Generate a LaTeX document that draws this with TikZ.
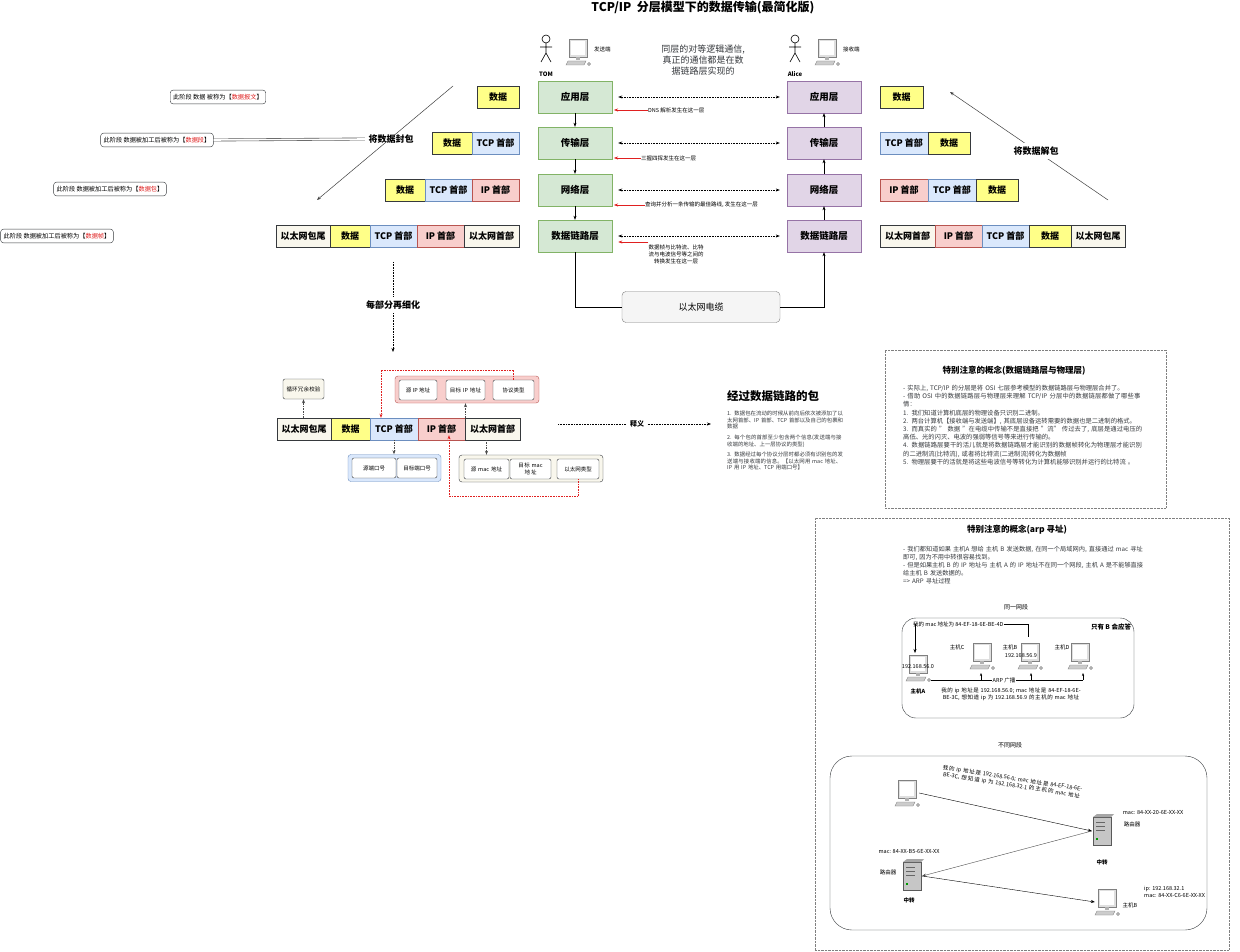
\documentclass[tikz,border=0pt]{standalone}
\usepackage{fontspec}
\setmainfont{Noto Sans CJK SC}
\XeTeXlinebreaklocale "zh"
\XeTeXlinebreakskip=0pt plus 1pt
\usetikzlibrary{arrows.meta,positioning}
\definecolor{gF}{HTML}{D5E8D4}\definecolor{gD}{HTML}{82B366}
\definecolor{pF}{HTML}{E1D5E7}\definecolor{pD}{HTML}{9673A6}
\definecolor{yF}{HTML}{FFFF88}\definecolor{bF}{HTML}{DAE8FC}\definecolor{bD}{HTML}{6C8EBF}
\definecolor{rF}{HTML}{F8CECC}\definecolor{rD}{HTML}{B85450}\definecolor{eF}{HTML}{F9F7ED}
\definecolor{dk}{HTML}{36393D}\definecolor{red1}{HTML}{E02020}
\tikzset{
 f/.style={font=\fontsize{#1}{#1}\selectfont},
 lay/.style={draw=gD,fill=gF,minimum width=74pt,minimum height=32pt,font=\bfseries\fontsize{9.5}{11}\selectfont},
 layr/.style={lay,draw=pD,fill=pF},
 cell/.style={draw=dk,minimum height=22pt,inner sep=0pt,font=\bfseries\fontsize{9}{11}\selectfont},
 ye/.style={cell,fill=yF,minimum width=#1},
 bl/.style={cell,draw=bD,fill=bF,minimum width=#1},
 pk/.style={cell,draw=rD,fill=rF,minimum width=#1},
 be/.style={cell,fill=eF,minimum width=#1},
 lbl/.style={draw=dk,rounded corners=3pt,fill=white,inner xsep=3pt,inner ysep=4pt,font=\fontsize{6.2}{7}\selectfont},
 dbl/.style={double=white,draw=gray!70!black,double distance=1.6pt,line width=0.6pt},
 darr/.style={densely dotted,line width=0.6pt,-{Stealth[length=4pt]}},
 rarr/.style={red1,line width=0.5pt,-{Stealth[length=4pt]}},
 sm/.style={font=\fontsize{5.5}{7}\selectfont,inner sep=0pt},
 ib/.style={draw=dk,rounded corners=2pt,fill=white,inner sep=1pt,minimum height=20pt,align=center,font=\fontsize{5.5}{6.5}\selectfont},
 pc/.pic={\draw[gray,fill=gray!25] (-9,-13) rectangle (9,5);\fill[white](-7,-11) rectangle (7,3);
   \fill[gray!60](-2,5) rectangle (2,8);\draw[gray,fill=gray!40](-10,9)--(8,9)--(6,13)--(-12,13)--cycle;
   \draw[gray,fill=gray!30](11,12) circle (1.5);},
 rt/.pic={\draw[gray!70!black,fill=gray!45](-9,-14) rectangle (9,14);\fill[gray!70](-9,-14)--(-5,-17)--(12,-17)--(9,-14)--cycle;
   \foreach \yy in {-9,-5,-1}{\draw[gray!80!black](-6,\yy)--(3,\yy);}\fill[green!60!black](-6,7) rectangle (-4,9);},
 actor/.pic={\draw[line width=0.6pt](0,-11) circle (4);\draw[line width=0.6pt](0,-7)--(0,3)(-6,-3)--(6,-3)(0,3)--(-5,12)(0,3)--(5,12);},
}
\begin{document}
\begin{tikzpicture}[x=1pt,y=-1pt]
\useasboundingbox[fill=white] (0,0) rectangle (1240,952);
% title
\node[font=\bfseries\fontsize{12}{14}\selectfont] (title) at (703,8) {TCP/IP\ \ 分层模型下的数据传输(最简化版)};
\pic at (546,50) {actor}; \node[font=\bfseries\fontsize{6}{7}\selectfont] (tom) at (546,74) {TOM};
\pic at (578,52) {pc}; \node[sm,anchor=west] (snd) at (594,49) {发送端};
\pic at (795,50) {actor}; \node[font=\bfseries\fontsize{6}{7}\selectfont] (alice) at (795,74) {Alice};
\pic at (827,52) {pc}; \node[sm,anchor=west] (rcv) at (843,49) {接收端};
\node[align=center,text=dk,font=\fontsize{9}{11}\selectfont] (note) at (703,60) {同层的对等逻辑通信,\\真正的通信都是在数\\据链路层实现的};
% layers
\foreach \n/\t/\y in {a/应用层/97,b/传输层/143,c/网络层/190,d/数据链路层/236}{
 \node[lay] (L\n) at (575,\y) {\t};
 \node[layr] (R\n) at (824,\y) {\t};
 \draw[densely dotted,line width=0.6pt,{Stealth[length=4pt]}-{Stealth[length=4pt]}] ([xshift=6pt]L\n.east) -- ([xshift=-7pt]R\n.west);
}
\draw[-{Stealth[length=4pt]}] (La) -- (Lb); \draw[-{Stealth[length=4pt]}] (Lb) -- (Lc); \draw[-{Stealth[length=4pt]}] (Lc) -- (Ld);
\draw[-{Stealth[length=4pt]}] (Rd) -- (Rc); \draw[-{Stealth[length=4pt]}] (Rc) -- (Rb); \draw[-{Stealth[length=4pt]}] (Rb) -- (Ra);
\node[sm,anchor=west] (na) at (648,110) {DNS 解析发生在这一层};
\node[sm,anchor=west] (nb) at (641,158) {三握四挥发生在这一层};
\node[sm,anchor=west] (nc) at (645,205) {查询并分析一条传输的最佳路线, 发生在这一层};
\node[sm,align=center,anchor=north] (nd) at (676,245) {数据帧与比特流、比特\\流与电波信号等之间的\\转换发生在这一层};
\draw[rarr] (na.west) -- ++(-34,0); \draw[rarr] (nb.west) -- ++(-27,0);
\draw[rarr] (nc.west) -- ++(-31,0); \draw[rarr] ([yshift=3pt]nd.north west) -- ++(-30,0);
\node[draw=gray,fill=gray!8,rounded corners=4pt,minimum width=158pt,minimum height=31pt,font=\fontsize{9}{11}\selectfont] (cable) at (701,307) {以太网电缆};
\draw (Ld.south) |- (cable.west);
\draw[-{Stealth[length=4pt]}] (cable.east) -| (Rd.south);
% left packets
\node[ye=42pt] (p1a) at (498,97) {数据};
\node[ye=40pt] (p2a) at (452,143) {数据}; \node[bl=47pt] (p2b) at (495.5,143) {TCP 首部};
\node[ye=40pt] (p3a) at (405,190) {数据}; \node[bl=47pt] (p3b) at (448.5,190) {TCP 首部}; \node[pk=47pt] (p3c) at (495.5,190) {IP 首部};
\node[be=54pt] (p4a) at (303,236) {以太网包尾}; \node[ye=40pt] (p4b) at (350,236) {数据}; \node[bl=47pt] (p4c) at (393.5,236) {TCP 首部};
\node[pk=47pt] (p4d) at (440.5,236) {IP 首部}; \node[be=55pt] (p4e) at (491.5,236) {以太网首部};
% stage labels
\node[lbl] (s1) at (218,97) {此阶段 数据 被称为【\textcolor{red1}{数据报文}】};
\node[lbl] (s2) at (157,140) {此阶段 数据被加工后被称为【\textcolor{red1}{数据段}】};
\node[lbl] (s3) at (110,189) {此阶段 数据被加工后被称为【\textcolor{red1}{数据包}】};
\node[lbl] (s4) at (57,236) {此阶段 数据被加工后被称为【\textcolor{red1}{数据帧}】};
\node[font=\bfseries\fontsize{9}{11}\selectfont] (enc) at (391,139) {将数据封包};
\coordinate (e1) at (417,97); \coordinate (e3) at (316,189); \coordinate (e4) at (263,236);
\draw[dbl] (s1.east) -- (e1); \draw[dbl] (s2.east) -- (enc.west); \draw[dbl] (s3.east) -- (e3); \draw[dbl] (s4.east) -- (e4);
\coordinate (ea) at (453,86); \coordinate (eb) at (317,200);
\draw[gray!50!black,line width=0.5pt,-{Stealth[length=4pt]}] (ea) -- (eb);
% right packets
\node[ye=43pt] (q1a) at (901.5,97) {数据};
\node[bl=48pt] (q2a) at (904,143) {TCP 首部}; \node[ye=42pt] (q2b) at (949,143) {数据};
\node[pk=48pt] (q3a) at (904,190) {IP 首部}; \node[bl=48pt] (q3b) at (952,190) {TCP 首部}; \node[ye=42pt] (q3c) at (997,190) {数据};
\node[be=55pt] (q4a) at (907.5,236) {以太网首部}; \node[pk=47pt] (q4b) at (958.5,236) {IP 首部}; \node[bl=47pt] (q4c) at (1005.5,236) {TCP 首部};
\node[ye=42pt] (q4d) at (1050,236) {数据}; \node[be=54pt] (q4e) at (1098,236) {以太网包尾};
\coordinate (ua) at (1108,200); \coordinate (ub) at (950,92);
\draw[gray!50!black,line width=0.5pt,-{Stealth[length=4pt]}] (ua) -- (ub);
\node[fill=white,font=\bfseries\fontsize{9}{11}\selectfont] (dec) at (1036,151) {将数据解包};
% refine
\coordinate (r0) at (393,262); \coordinate (r1) at (393,352);
\draw[darr] (r0) -- (r1);
\node[fill=white,font=\bfseries\fontsize{9}{11}\selectfont] (refine) at (393,305) {每部分再细化};
% detail row
\node[be=54pt] (d1) at (304,429) {以太网包尾}; \node[ye=39pt] (d2) at (350.5,429) {数据};
\node[bl=48pt] (d3) at (394,429) {TCP 首部}; \node[pk=47pt] (d4) at (441.5,429) {IP 首部}; \node[be=55pt] (d5) at (492.5,429) {以太网首部};
\node[ib,fill=eF,minimum width=41pt,text width=38pt] (crc) at (303.5,389) {循环冗余校验};
\draw[darr,gray!60!black] (d1.north -| crc) -- (crc.south);
\node[draw=rD,fill=rF,rounded corners=3pt,minimum width=144pt,minimum height=27pt] (ipg) at (467,389.5) {};
\node[ib,minimum width=38pt] (ip1) at (418,390) {源 IP 地址};
\node[ib,minimum width=39pt,text width=34pt] (ip2) at (465.5,390) {目标 IP 地址};
\node[ib,minimum width=41pt] (ip3) at (513.5,390) {协议类型};
\draw[darr,gray!60!black] (d4.north -| ip2) -- (ipg.south -| ip2);
\node[draw=bD,fill=bF,rounded corners=3pt,minimum width=93pt,minimum height=27pt] (tcpg) at (394.5,468) {};
\node[ib,minimum width=44pt] (t1) at (374,468) {源端口号}; \node[ib,minimum width=40pt] (t2) at (417,468) {目标端口号};
\draw[darr,gray!60!black] (d3.south) -- (tcpg.north -| d3);
\node[draw=dk,fill=eF,rounded corners=3pt,minimum width=144pt,minimum height=27pt] (ethg) at (531,468.5) {};
\node[ib,minimum width=45pt,text width=34pt] (m1) at (486.5,469) {源 mac 地址};
\node[ib,minimum width=41pt,text width=34pt] (m2) at (530.5,469) {目标 mac 地址};
\node[ib,minimum width=42pt] (m3) at (578,469) {以太网类型};
\draw[darr,gray!60!black] (d5.south -| m1) -- (ethg.north -| m1);
\draw[red1,densely dotted,line width=0.6pt,-{Stealth[length=4pt]}] (ip3.north) -- ++(0,-10) -| (d3.north -| 381,0);
\draw[red1,densely dotted,line width=0.6pt,-{Stealth[length=4pt]}] (m3.south) -- ++(0,17) -| ([yshift=5pt]d4.south -| 449,0);
\node[font=\bfseries\fontsize{7}{8}\selectfont] (shiyi) at (637,424) {释义};
\coordinate (sy0) at (558,424); \coordinate (sy1) at (711,424);
\draw[densely dotted,line width=0.6pt] (sy0) -- (shiyi.west); \draw[darr] (shiyi.east) -- (sy1);
\node[anchor=north west,font=\bfseries\fontsize{11.5}{13}\selectfont,inner sep=0pt] (pkt) at (727,390) {经过数据链路的包};
\node[anchor=north west,text width=116pt,align=left,inner sep=0pt,font=\fontsize{5.4}{6.6}\selectfont,text=dk] (pktt) at (727,411) {1. 数据包在流动的时候从前向后依次被添加了以太网首部、IP 首部、TCP 首部以及自己的包裹和数据\\[4pt]2. 每个包的首部至少包含两个信息(发送端与接收端的地址、上一层协议的类型)\\[4pt]3. 数据经过每个协议分层时都必须有识别包的发送端与接收端的信息。【以太网用 mac 地址、IP 用 IP 地址、TCP 用端口号】};
% box 1
\node[draw=gray,densely dotted,minimum width=281pt,minimum height=158pt] (box1) at (1025.5,429) {};
\node[font=\bfseries\fontsize{8.5}{10}\selectfont] (b1t) at (1014,371) {特别注意的概念(数据链路层与物理层)};
\node[anchor=north west,text width=240pt,align=left,inner sep=0pt,font=\fontsize{6.3}{8.2}\selectfont,text=dk] (b1b) at (903,385) {- 实际上, TCP/IP 的分层是将 OSI 七层参考模型的数据链路层与物理层合并了。\\- 借助 OSI 中的数据链路层与物理层来理解 TCP/IP 分层中的数据链层都做了哪些事情：\\1. 我们知道计算机底层的物理设备只识别二进制。\\2. 两台计算机【接收端与发送端】, 其底层设备运转需要的数据也是二进制的格式。\\3. 而真实的 " 数据 "在电缆中传输不是直接把 "流" 传过去了, 底层是通过电压的高低、光的闪灭、电波的强弱等信号等来进行传输的。\\4. 数据链路层要干的活儿就是将数据链路层才能识别的数据帧转化为物理层才能识别的二进制流(比特流), 或者将比特流(二进制流)转化为数据帧\\5. 物理层要干的活就是将这些电波信号等转化为计算机能够识别并运行的比特流 。};
% box 2
\node[draw=gray,densely dotted,minimum width=414pt,minimum height=432pt] (box2) at (1022,734) {};
\node[font=\bfseries\fontsize{8.5}{10}\selectfont] (b2t) at (1017,530) {特别注意的概念(arp 寻址)};
\node[anchor=north west,text width=240pt,align=left,inner sep=0pt,font=\fontsize{6.2}{8}\selectfont,text=dk] (b2b) at (903,546) {- 我们都知道如果 主机A 想给 主机 B 发送数据, 在同一个局域网内, 直接通过 mac 寻址即可, 因为不用中转很容易找到。\\- 但是如果主机 B 的 IP 地址与 主机 A 的 IP 地址不在同一个网段, 主机 A 是不能够直接给主机 B 发送数据的。\\=> ARP 寻址过程};
\node[f=6] (same) at (1016,607) {同一网段};
\node[draw=dk,rounded corners=14pt,minimum width=232pt,minimum height=100pt] (lan) at (1018,668) {};
\node[font=\bfseries\fontsize{6.5}{8}\selectfont] (onlyb) at (1111,627) {只有 B 会应答};
\node[sm,anchor=west] (mymac) at (913,624) {我的 mac 地址为 84-EF-18-6E-BE-4D};
\coordinate (hA) at (918,668); \coordinate (hC) at (982,656); \coordinate (hB) at (1030,656); \coordinate (hD) at (1080,656);
\pic at (hA) {pc}; \pic at (hC) {pc}; \pic at (hB) {pc}; \pic at (hD) {pc};
\coordinate (mm1) at (1028,624); \coordinate (mm2) at (1028,637); \coordinate (aa1) at (915,624); \coordinate (aa2) at (915,653);
\draw (mymac.east) -- (mm1) -- (mm2); \draw[-{Stealth[length=4pt]}] (aa1) -- (aa2);
\node[sm] (lC) at (957,647) {主机C}; \node[sm] (lB) at (1010,647) {主机B}; \node[sm] (l9) at (1021,656) {192.168.56.9};
\node[sm] (lD) at (1062,647) {主机D}; \node[sm] (l0) at (918,667) {192.168.56.0}; \node[font=\bfseries\fontsize{5.5}{7}\selectfont] (lA) at (918,691) {主机A};
\coordinate (arp0) at (931,680); \coordinate (arp1) at (1083,680);
\draw (arp0) -- (arp1);
\foreach \xx in {981,1031,1083}{\draw[-{Stealth[length=3pt]}] (\xx,680) -- (\xx,673);}
\node[sm,fill=white,inner sep=1pt] (arpl) at (1004,680) {ARP 广播};
\node[sm,align=center,text width=150pt] (ask) at (1011,694) {我的 ip 地址是 192.168.56.0; mac 地址是 84-EF-18-6E-BE-3C, 想知道 ip 为 192.168.56.9 的主机的 mac 地址};
\node[f=6] (diff) at (1010,745) {不同网段};
\node[draw=dk,rounded corners=22pt,minimum width=377pt,minimum height=174pt] (wan) at (1018.5,843) {};
\node[minimum size=24pt,inner sep=0pt] (c1) at (907,793) {}; \pic at (c1) {pc};
\node[minimum width=20pt,minimum height=30pt,inner sep=0pt] (r1n) at (1102,831) {}; \pic at (r1n) {rt};
\node[minimum width=20pt,minimum height=30pt,inner sep=0pt] (r2n) at (912,876) {}; \pic at (r2n) {rt};
\node[minimum size=24pt,inner sep=0pt] (c2) at (1107,902) {}; \pic at (c2) {pc};
\draw[-{Stealth[length=4pt]}] (c1.east) -- (r1n.west);
\draw[-{Stealth[length=4pt]},gray!60!black] (r1n.west) -- (r2n.east);
\draw[-{Stealth[length=4pt]}] (r2n.east) -- (c2.west);
\node[sm,align=center,rotate=-9,text width=160pt] (ask2) at (1012,782) {我的 ip 地址是 192.168.56.0; mac 地址是 84-EF-18-6E-BE-3C, 想知道 ip 为 192.168.32.1 的主机的 mac 地址};
\node[sm] (m1l) at (1153,813) {mac: 84-XX-20-6E-XX-XX}; \node[sm] (rl1) at (1132,824) {路由器}; \node[font=\bfseries\fontsize{5.5}{7}\selectfont] (z1) at (1102,862) {中转};
\node[sm] (m2l) at (909,852) {mac: 84-XX-B5-6E-XX-XX}; \node[sm] (rl2) at (888,872) {路由器}; \node[font=\bfseries\fontsize{5.5}{7}\selectfont] (z2) at (909,900) {中转};
\node[sm] (hbl) at (1130,905) {主机B};
\node[sm,anchor=west,align=left] (hbi) at (1144,892) {ip: 192.168.32.1\\mac: 84-XX-C6-6E-XX-XX};
\end{tikzpicture}
\end{document}
